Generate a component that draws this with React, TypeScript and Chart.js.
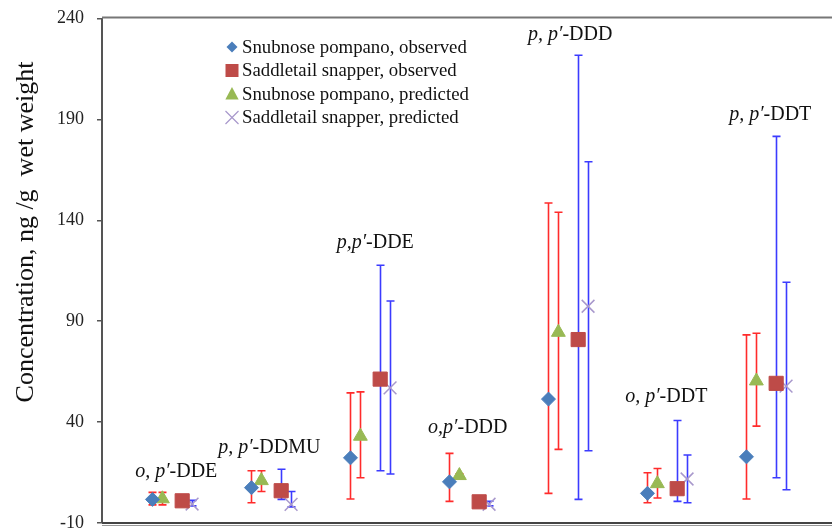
import React, { useEffect, useRef } from 'react';
import { Chart, registerables } from 'chart.js';

Chart.register(...registerables);

// ---- Data ----
const labelItalic = ['o, p′', 'p, p′', 'p,p′', 'o,p′', 'p, p′', 'o, p′', 'p, p′'];
const labelPlain = ['-DDE', '-DDMU', '-DDE', '-DDD', '-DDD', '-DDT', '-DDT'];
const labelY = [15.2, 27.1, 129.1, 37, 232, 52.5, 192.5];
const labelDx = [0.04, -0.02, 0.05, -0.015, 0.02, -0.01, 0.04];

const yTicks = [-10, 40, 90, 140, 190, 240];

const snubObs = [1.7, 7.5, 22.3, 10.4, 51.4, 4.7, 22.8];
const snubObsLow = [-1, 0, 1.9, 0.7, 4.7, 0, 1.9];
const snubObsHigh = [5.2, 15.9, 54.5, 24.5, 148.6, 14.9, 83.2];

const saddleObs = [1.0, 6.0, 61.3, 0.5, 80.9, 7.0, 59.2];
const saddleObsLow = [null, 1.7, 15.9, null, 1.7, 0.7, 12.4];
const saddleObsHigh = [null, 16.6, 117.7, null, 221.8, 40.8, 181.6];

const snubPred = [2.0, 11.0, 33.0, 13.5, 84.5, 9.5, 60.4];
const snubPredLow = [-1, 5.6, 12.4, 12, 26.5, 2.4, 38];
const snubPredHigh = [5.2, 15.9, 55, 14.4, 144, 17, 84];

const saddlePred = [-0.6, -0.8, 57, -0.7, 97.4, 11.8, 57.8];
const saddlePredLow = [-1.5, -2, 14.3, -1.5, 25.8, 0, 6.5];
const saddlePredHigh = [1.2, 5.6, 100, 0.8, 169, 23.7, 109.3];

const seriesNames = [
  'Snubnose pompano, observed',
  'Saddletail snapper, observed',
  'Snubnose pompano, predicted',
  'Saddletail snapper, predicted',
];

const SERIF = '"Liberation Serif", "Times New Roman", serif';

type Series = {
  name: string;
  values: number[];
  low: (number | null)[];
  high: (number | null)[];
  offset: number;
  style: string;
  color: string;
  radius: number;
  barColor: string;
};

const series: Series[] = [
  { name: seriesNames[0], values: snubObs, low: snubObsLow, high: snubObsHigh, offset: -0.2, style: 'rectRot', color: '#4a7ebb', radius: 7, barColor: '#ff2b2b' },
  { name: seriesNames[1], values: saddleObs, low: saddleObsLow, high: saddleObsHigh, offset: 0.1, style: 'rect', color: '#be4b48', radius: 10, barColor: '#3b3bff' },
  { name: seriesNames[2], values: snubPred, low: snubPredLow, high: snubPredHigh, offset: -0.1, style: 'triangle', color: '#98b954', radius: 8, barColor: '#ff2b2b' },
  { name: seriesNames[3], values: saddlePred, low: saddlePredLow, high: saddlePredHigh, offset: 0.2, style: 'crossRot', color: '#a898cc', radius: 9, barColor: '#3b3bff' },
];

function drawMarker(ctx: CanvasRenderingContext2D, style: string, x: number, y: number, r: number, color: string) {
  ctx.save();
  ctx.fillStyle = color;
  ctx.strokeStyle = color;
  ctx.lineWidth = 1.2;
  ctx.beginPath();
  if (style === 'rectRot') {
    ctx.moveTo(x, y - r);
    ctx.lineTo(x + r, y);
    ctx.lineTo(x, y + r);
    ctx.lineTo(x - r, y);
    ctx.closePath();
    ctx.fill();
  } else if (style === 'rect') {
    ctx.rect(x - r, y - r, 2 * r, 2 * r);
    ctx.fill();
  } else if (style === 'triangle') {
    ctx.moveTo(x, y - r);
    ctx.lineTo(x + r * 0.95, y + r * 0.8);
    ctx.lineTo(x - r * 0.95, y + r * 0.8);
    ctx.closePath();
    ctx.fill();
  } else {
    ctx.moveTo(x - r, y - r);
    ctx.lineTo(x + r, y + r);
    ctx.moveTo(x + r, y - r);
    ctx.lineTo(x - r, y + r);
    ctx.stroke();
  }
  ctx.restore();
}

const errorBarPlugin = {
  id: 'errorBars',
  beforeDatasetsDraw(chart: any) {
    const { ctx, scales } = chart;
    const xs = scales.x;
    const ys = scales.y;
    ctx.save();
    ctx.lineWidth = 1.6;
    series.forEach((s) => {
      ctx.strokeStyle = s.barColor;
      s.values.forEach((_v, i) => {
        const lo = s.low[i];
        const hi = s.high[i];
        if (lo == null || hi == null) return;
        const px = Math.round(xs.getPixelForValue(i + 1 + s.offset)) + 0.5;
        const pl = ys.getPixelForValue(lo);
        const ph = ys.getPixelForValue(hi);
        ctx.beginPath();
        ctx.moveTo(px, pl);
        ctx.lineTo(px, ph);
        ctx.moveTo(px - 4, ph);
        ctx.lineTo(px + 4, ph);
        ctx.moveTo(px - 4, pl);
        ctx.lineTo(px + 4, pl);
        ctx.stroke();
      });
    });
    ctx.restore();
  },
};

const decorPlugin = {
  id: 'decor',
  afterDraw(chart: any) {
    const { ctx, chartArea, scales } = chart;
    const xs = scales.x;
    const ys = scales.y;
    ctx.save();
    // top frame line
    ctx.strokeStyle = '#777';
    ctx.lineWidth = 2;
    ctx.beginPath();
    ctx.moveTo(chartArea.left, chartArea.top - 1);
    ctx.lineTo(chartArea.right, chartArea.top - 1);
    ctx.stroke();
    // bottom axis line
    ctx.strokeStyle = '#444';
    ctx.lineWidth = 2;
    ctx.beginPath();
    ctx.moveTo(chartArea.left, chartArea.bottom);
    ctx.lineTo(chartArea.right, chartArea.bottom);
    ctx.stroke();
    ctx.strokeStyle = '#999';
    ctx.lineWidth = 1;
    ctx.beginPath();
    ctx.moveTo(chartArea.left, chartArea.bottom + 2.5);
    ctx.lineTo(chartArea.right, chartArea.bottom + 2.5);
    ctx.stroke();

    // y title
    ctx.save();
    ctx.translate(26, 232);
    ctx.rotate(-Math.PI / 2);
    ctx.font = `26px ${SERIF}`;
    ctx.fillStyle = '#111';
    ctx.textAlign = 'center';
    ctx.textBaseline = 'middle';
    ctx.fillText('Concentration, ng /g  wet weight', 0, 0);
    ctx.restore();

    // group labels
    ctx.fillStyle = '#111';
    ctx.textBaseline = 'middle';
    ctx.textAlign = 'left';
    labelItalic.forEach((it, i) => {
      const fi = `italic 20px ${SERIF}`;
      const fn = `20px ${SERIF}`;
      ctx.font = fi;
      const wi = ctx.measureText(it).width;
      ctx.font = fn;
      const wn = ctx.measureText(labelPlain[i]).width;
      const cx = xs.getPixelForValue(i + 1 + labelDx[i]);
      const cy = ys.getPixelForValue(labelY[i]);
      const x0 = cx - (wi + wn) / 2;
      ctx.font = fi;
      ctx.fillText(it, x0, cy);
      ctx.font = fn;
      ctx.fillText(labelPlain[i], x0 + wi, cy);
    });

    // legend
    const lx = 232;
    const ly0 = 47;
    const step = 23.5;
    const legendSizes = [5.5, 6.5, 7, 6.5];
    series.forEach((s, i) => {
      const y = ly0 + i * step;
      drawMarker(ctx, s.style, lx, y, legendSizes[i], s.color);
      ctx.font = `18.8px ${SERIF}`;
      ctx.fillStyle = '#111';
      ctx.textAlign = 'left';
      ctx.textBaseline = 'middle';
      ctx.fillText(s.name, lx + 10, y + 1);
    });
    ctx.restore();
  },
};

export default function App() {
  const ref = useRef<HTMLCanvasElement | null>(null);

  useEffect(() => {
    document.body.style.margin = '0';
    const canvas = ref.current;
    if (!canvas) return;
    const datasets = series.map((s) => ({
      label: s.name,
      data: s.values.map((v, i) => ({ x: i + 1 + s.offset, y: v })),
      pointStyle: s.style,
      pointRadius: s.radius,
      pointHoverRadius: s.radius,
      backgroundColor: s.color,
      borderColor: s.color,
      borderWidth: s.style === 'crossRot' ? 1.5 : 1,
      showLine: false,
      clip: false,
    }));

    const chart = new Chart(canvas, {
      type: 'scatter',
      data: { datasets },
      options: {
        responsive: false,
        animation: false,
        events: [],
        layout: { autoPadding: false, padding: { top: 18.5, bottom: 8, left: 0, right: 0 } },
        plugins: {
          legend: { display: false },
          tooltip: { enabled: false },
        },
        scales: {
          x: { type: 'linear', min: 0.29, max: 7.664, display: false },
          y: {
            type: 'linear',
            min: -10,
            max: 240,
            afterBuildTicks: (scale: any) => {
              scale.ticks = yTicks.map((v) => ({ value: v }));
            },
            afterFit: (scale: any) => {
              scale.width = 102;
              scale.paddingTop = 0;
              scale.paddingBottom = 0;
            },
            ticks: {
              color: '#222',
              padding: 13,
              font: { family: SERIF, size: 18, lineHeight: 1 },
            },
            grid: {
              drawOnChartArea: false,
              drawTicks: true,
              tickLength: 5,
              color: '#555',
              lineWidth: 1.5,
            },
            border: { display: true, color: '#555', width: 2 },
          },
        },
      },
      plugins: [errorBarPlugin, decorPlugin],
    } as any);
    return () => chart.destroy();
  }, []);

  return (
    <div style={{ width: 832, height: 531, background: '#fff' }}>
      <canvas ref={ref} width={832} height={531} style={{ display: 'block' }} />
    </div>
  );
}
